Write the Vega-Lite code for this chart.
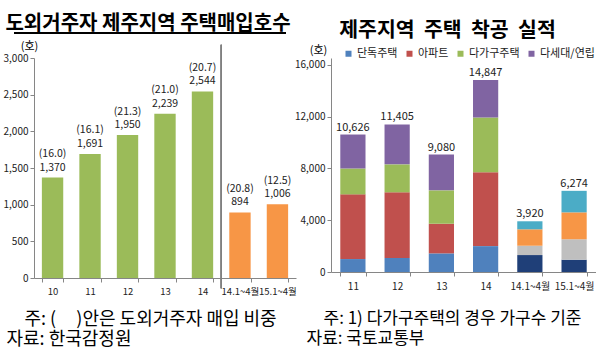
{
  "$schema": "https://vega.github.io/schema/vega-lite/v6.json",
  "padding": {"left": 3, "top": 13, "right": 0, "bottom": 0},
  "spacing": 35,
  "bounds": "flush",
  "config": {
    "font": "Noto Sans CJK KR",
    "view": {"stroke": null},
    "axis": {"domainColor": "#868686", "tickColor": "#868686", "labelColor": "#222222", "grid": false, "labelFont": "Noto Sans CJK KR", "titleFont": "Noto Sans CJK KR", "titleColor": "#000000", "titleFontWeight": "normal"},
    "axisY": {"labelOverlap": false},
    "text": {"font": "Noto Sans CJK KR", "color": "#222222"}
  },
  "resolve": {"scale": {"color": "independent"}, "legend": {"color": "independent"}},
  "hconcat": [
    {
      "width": 262,
      "height": 220,
      "title": {"text": "도외거주자 제주지역 주택매입호수", "fontSize": 20, "fontWeight": "bold", "frame": "group", "anchor": "middle", "dx": -17, "offset": -2, "color": "#000000"},
      "data": {"values": [
        {"year": "10", "value": 1370, "share": "(16.0)", "period": "annual"},
        {"year": "11", "value": 1691, "share": "(16.1)", "period": "annual"},
        {"year": "12", "value": 1950, "share": "(21.3)", "period": "annual"},
        {"year": "13", "value": 2239, "share": "(21.0)", "period": "annual"},
        {"year": "14", "value": 2544, "share": "(20.7)", "period": "annual"},
        {"year": "14.1~4월", "value": 894, "share": "(20.8)", "period": "partial"},
        {"year": "15.1~4월", "value": 1006, "share": "(12.5)", "period": "partial"}
      ]},
      "layer": [
        {
          "mark": {"type": "bar"},
          "encoding": {
            "x": {"field": "year", "type": "nominal", "sort": null, "scale": {"paddingInner": 0.43, "paddingOuter": 0.21},
              "axis": {"labelAngle": 0, "labelFontSize": 9.5, "labelPadding": 4, "labelOverlap": false, "tickBand": "extent", "tickSize": 4,
                "title": ["\u200b\u3000주: (\u00a0\u00a0\u00a0\u00a0\u00a0)안은 도외거주자 매입 비중", "자료: 한국감정원"],
                "titleFontSize": 18, "titleAlign": "left", "titleBaseline": "top", "titleX": -28, "titleY": 32, "titleLineHeight": 20}},
            "y": {"field": "value", "type": "quantitative", "scale": {"domain": [0, 3000], "nice": false},
              "axis": {"values": [0, 500, 1000, 1500, 2000, 2500, 3000], "tickCount": 7, "labelExpr": "format(datum.value, ',')", "labelOverlap": false, "labelFontSize": 10, "tickSize": 4,
                "title": "(호)", "titleAngle": 0, "titleX": -5, "titleY": -12, "titleFontSize": 11, "titleAlign": "center", "titleBaseline": "middle"}},
            "color": {"field": "period", "type": "nominal", "scale": {"domain": ["annual", "partial"], "range": ["#9bbb59", "#f79646"]}, "legend": null}
          }
        },
        {
          "mark": {"type": "text", "dy": -10, "fontSize": 10.5},
          "encoding": {
            "x": {"field": "year", "type": "nominal", "sort": null},
            "y": {"field": "value", "type": "quantitative"},
            "text": {"field": "value", "type": "quantitative", "format": ","}
          }
        },
        {
          "mark": {"type": "text", "dy": -23.5, "fontSize": 10.5},
          "encoding": {
            "x": {"field": "year", "type": "nominal", "sort": null},
            "y": {"field": "value", "type": "quantitative"},
            "text": {"field": "share", "type": "nominal"}
          }
        },
        {
          "mark": {"type": "rule", "color": "#808080", "strokeWidth": 1},
          "encoding": {
            "x": {"datum": "14.1~4월", "bandPosition": -0.377},
            "y": {"datum": 3180},
            "y2": {"datum": -140}
          }
        },
        {
          "mark": {"type": "rule", "color": "#000000", "strokeWidth": 2},
          "encoding": {
            "x": {"datum": "10", "bandPosition": -1.3},
            "x2": {"datum": "15.1~4월", "bandPosition": 0.9},
            "y": {"datum": 3341}
          }
        }
      ]
    },
    {
      "width": 265,
      "height": 214,
      "title": {"text": "제주지역\u00a0\u00a0주택\u00a0\u00a0착공\u00a0\u00a0실적", "fontSize": 20.5, "fontWeight": "bold", "frame": "group", "anchor": "middle", "dx": -16, "offset": 2.5, "color": "#000000"},
      "layer": [
        {
          "data": {"values": [
            {"year": "11", "key": "단독주택", "ord": 1, "value": 1000},
            {"year": "11", "key": "아파트", "ord": 2, "value": 5000},
            {"year": "11", "key": "다가구주택", "ord": 3, "value": 2000},
            {"year": "11", "key": "다세대/연립", "ord": 4, "value": 2626},
            {"year": "12", "key": "단독주택", "ord": 1, "value": 1080},
            {"year": "12", "key": "아파트", "ord": 2, "value": 5080},
            {"year": "12", "key": "다가구주택", "ord": 3, "value": 2160},
            {"year": "12", "key": "다세대/연립", "ord": 4, "value": 3085},
            {"year": "13", "key": "단독주택", "ord": 1, "value": 1440},
            {"year": "13", "key": "아파트", "ord": 2, "value": 2290},
            {"year": "13", "key": "다가구주택", "ord": 3, "value": 2580},
            {"year": "13", "key": "다세대/연립", "ord": 4, "value": 2770},
            {"year": "14", "key": "단독주택", "ord": 1, "value": 2000},
            {"year": "14", "key": "아파트", "ord": 2, "value": 5700},
            {"year": "14", "key": "다가구주택", "ord": 3, "value": 4250},
            {"year": "14", "key": "다세대/연립", "ord": 4, "value": 2897},
            {"year": "14.1~4월", "key": "p1", "ord": 1, "value": 1310},
            {"year": "14.1~4월", "key": "p2", "ord": 2, "value": 720},
            {"year": "14.1~4월", "key": "p3", "ord": 3, "value": 1270},
            {"year": "14.1~4월", "key": "p4", "ord": 4, "value": 620},
            {"year": "15.1~4월", "key": "p1", "ord": 1, "value": 950},
            {"year": "15.1~4월", "key": "p2", "ord": 2, "value": 1580},
            {"year": "15.1~4월", "key": "p3", "ord": 3, "value": 2080},
            {"year": "15.1~4월", "key": "p4", "ord": 4, "value": 1664}
          ]},
          "mark": {"type": "bar"},
          "encoding": {
            "x": {"field": "year", "type": "nominal", "sort": null, "scale": {"paddingInner": 0.43, "paddingOuter": 0.21},
              "axis": {"labelAngle": 0, "labelFontSize": 10, "labelPadding": 5, "labelOverlap": false, "tickBand": "extent", "tickSize": 4,
                "title": ["\u200b\u3000주: 1) 다가구주택의 경우 가구수 기준", "자료: 국토교통부"],
                "titleFontSize": 17, "titleAlign": "left", "titleBaseline": "top", "titleX": -25, "titleY": 38, "titleLineHeight": 20}},
            "y": {"field": "value", "type": "quantitative", "stack": "zero", "scale": {"domain": [0, 16540], "nice": false},
              "axis": {"values": [0, 4000, 8000, 12000, 16000], "labelExpr": "format(datum.value, ',')", "labelOverlap": false, "labelFontSize": 10, "tickSize": 4,
                "title": "(호)", "titleAngle": 0, "titleX": -13, "titleY": -8, "titleFontSize": 11, "titleAlign": "center", "titleBaseline": "middle"}},
            "color": {"field": "key", "type": "nominal",
              "scale": {"domain": ["단독주택", "아파트", "다가구주택", "다세대/연립", "p1", "p2", "p3", "p4"],
                "range": ["#4f81bd", "#c0504d", "#9bbb59", "#8064a2", "#1f3f78", "#bfbfbf", "#f79646", "#4bacc6"]},
              "legend": {"values": ["단독주택", "아파트", "다가구주택", "다세대/연립"], "title": null, "orient": "none", "legendX": 12, "legendY": -10,
                "direction": "horizontal", "symbolType": "square", "symbolSize": 36, "symbolStrokeWidth": 0, "labelFontSize": 11, "labelColor": "#222222", "columnPadding": 6, "labelOffset": 3}},
            "order": {"field": "ord", "type": "quantitative"}
          }
        },
        {
          "data": {"values": [
            {"year": "11", "total": 10626},
            {"year": "12", "total": 11405},
            {"year": "13", "total": 9080},
            {"year": "14", "total": 14847},
            {"year": "14.1~4월", "total": 3920},
            {"year": "15.1~4월", "total": 6274}
          ]},
          "mark": {"type": "text", "dy": -7, "fontSize": 11},
          "encoding": {
            "x": {"field": "year", "type": "nominal", "sort": null},
            "y": {"field": "total", "type": "quantitative"},
            "text": {"field": "total", "type": "quantitative", "format": ","}
          }
        },
        {
          "mark": {"type": "rule", "color": "#808080", "strokeWidth": 1},
          "encoding": {
            "x": {"datum": "14.1~4월", "bandPosition": -0.377},
            "y": {"datum": 15610},
            "y2": {"datum": -1930}
          }
        },
        {
          "mark": {"type": "rule", "color": "#000000", "strokeWidth": 2},
          "encoding": {
            "x": {"datum": "11", "bandPosition": -0.17},
            "x2": {"datum": "14.1~4월", "bandPosition": 1.6},
            "y": {"datum": 18393}
          }
        }
      ]
    }
  ]
}
